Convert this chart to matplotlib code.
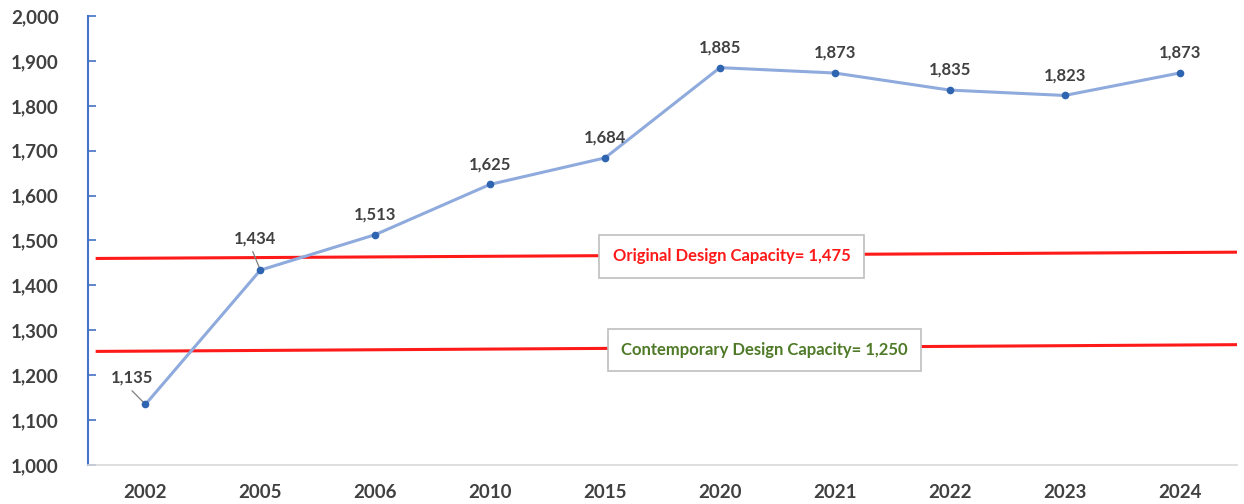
import matplotlib.pyplot as plt
from matplotlib.ticker import FuncFormatter

years = ["2002", "2005", "2006", "2010", "2015", "2020", "2021", "2022", "2023", "2024"]
population = [1135, 1434, 1513, 1625, 1684, 1885, 1873, 1835, 1823, 1873]
original_capacity = 1475
contemporary_capacity = 1250
# the capacity lines in the source are drawn by hand and tilt a little
original_line_y = [1460, 1474]
contemporary_line_y = [1253, 1268]

plt.rcParams['font.family'] = ['Lato', 'DejaVu Sans']
label_gray = '#404040'

fig = plt.figure(figsize=(12.44, 5.04), dpi=100)
ax = fig.add_axes([88 / 1244, 39 / 504, 1149 / 1244, 449 / 504])

x = list(range(len(years)))
ax.plot(x, population, color='#8FAADC', linewidth=2.2, zorder=3)
ax.plot(x, population, linestyle='none', marker='o', markersize=4.5,
        color='#2E64B0', zorder=4)

# capacity lines
ax.plot([-0.42, 9.5], original_line_y, color='#FF1A1A', linewidth=2.2, zorder=2)
ax.plot([-0.42, 9.5], contemporary_line_y, color='#FF1A1A', linewidth=2.2, zorder=2)

box = dict(boxstyle='square,pad=0.8', facecolor='white', edgecolor='#BFBFBF', linewidth=1.2)
ax.text(5.10, 1465, f"Original Design Capacity= {original_capacity:,}", color='#FF1A1A',
        fontsize=12, fontweight='bold', ha='center', va='center', bbox=box, zorder=5)
ax.text(5.39, 1256, f"Contemporary Design Capacity= {contemporary_capacity:,}", color='#4F7A28',
        fontsize=12, fontweight='bold', ha='center', va='center', bbox=box, zorder=5)

# data labels, the first two sit off the point with a leader line
offsets = {0: (-10, 19), 1: (-4, 23)}
for i, v in enumerate(population):
    if i in offsets:
        dx, dy = offsets[i]
        ax.annotate(f"{v:,}", (i, v), xytext=(dx, dy), textcoords='offset points',
                    ha='center', va='center', fontsize=12, fontweight='bold', color=label_gray,
                    arrowprops=dict(arrowstyle='-', color='#7F7F7F', lw=0.9,
                                    relpos=(0.4, 0), shrinkA=2, shrinkB=1))
    else:
        ax.annotate(f"{v:,}", (i, v), xytext=(0, 14.5), textcoords='offset points',
                    ha='center', va='center', fontsize=12, fontweight='bold', color=label_gray)

ax.set_xlim(-0.5, 9.5)
ax.set_ylim(1000, 2000)
ax.set_xticks(x)
ax.set_xticklabels(years)
ax.set_yticks(range(1000, 2001, 100))
ax.yaxis.set_major_formatter(FuncFormatter(lambda v, p: f"{int(v):,}"))

for lab in ax.get_xticklabels() + ax.get_yticklabels():
    lab.set_fontweight('bold')
    lab.set_color(label_gray)
    lab.set_fontsize(13.5)

ax.tick_params(axis='x', length=0, pad=14)
ax.tick_params(axis='y', direction='in', length=6, width=1.2, color='#4472C4', pad=21)

ax.spines['top'].set_visible(False)
ax.spines['right'].set_visible(False)
ax.spines['left'].set_color('#4472C4')
ax.spines['left'].set_linewidth(1.5)
ax.spines['bottom'].set_color('#D9D9D9')
ax.spines['bottom'].set_linewidth(1.2)

fig.savefig('out.png', dpi=100)
